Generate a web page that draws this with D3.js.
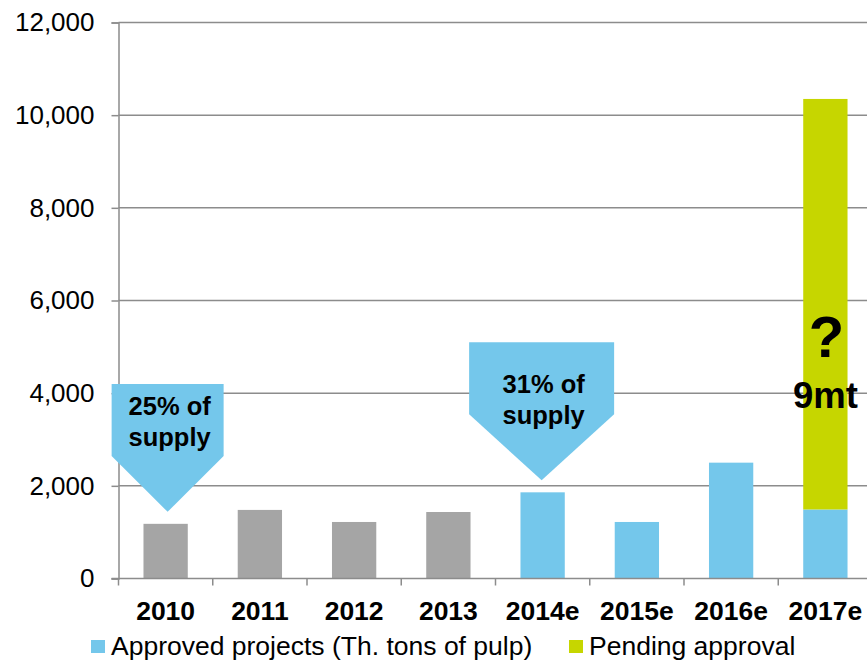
<!DOCTYPE html>
<html>
<head>
<meta charset="utf-8">
<script src="https://cdn.jsdelivr.net/npm/d3@7/dist/d3.min.js"></script>
<style>
  html, body { margin: 0; padding: 0; background: #fff; }
  svg { display: block; font-family: "Liberation Sans", Arial, sans-serif; }
</style>
</head>
<body>
<svg id="chart" width="867" height="660"></svg>
<script>
// Pulp capacity additions, thousand tons
const years = ["2010", "2011", "2012", "2013", "2014e", "2015e", "2016e", "2017e"];
const historical = [1180, 1480, 1220, 1435, 0, 0, 0, 0];
const approved   = [0, 0, 0, 0, 1860, 1220, 2500, 1490];
const pending    = [0, 0, 0, 0, 0, 0, 0, 8860];
const yTicks = [0, 2000, 4000, 6000, 8000, 10000, 12000];
const legendLabels = ["Approved projects (Th. tons of pulp)", "Pending approval"];

// Callouts pointing at bars
const callouts = [
  { year: "2010",  top: 4200, lines: ["25% of", "supply"], width: 112, dx: 2, textY: 31 },
  { year: "2014e", top: 5100, lines: ["31% of", "supply"], width: 145, dx: -1, textY: 51 }
];

const colors = { hist: "#a5a5a5", approved: "#74c7eb", pending: "#c6d600", grid: "#8c8c8c" };

const svg = d3.select("#chart");
const plotLeft = 118.5, plotRight = 872.5, plotTop = 22.5, plotBottom = 578.5;

const x = d3.scaleBand().domain(years).range([plotLeft, plotRight]).paddingInner(0.53).paddingOuter(0.265);
const y = d3.scaleLinear().domain([0, 12000]).range([plotBottom, plotTop]);
const step = x.step();

// Gridlines
svg.append("g").selectAll("line").data(yTicks.filter(v => v > 0)).join("line")
  .attr("x1", plotLeft).attr("x2", 867)
  .attr("y1", d => y(d)).attr("y2", d => y(d))
  .attr("stroke", colors.grid).attr("stroke-width", 1.5);

// Y axis
const yAxis = svg.append("g").attr("transform", `translate(${plotLeft},0)`)
  .call(d3.axisLeft(y).tickValues(yTicks).tickSize(7).tickPadding(17).tickFormat(d3.format(",")));
yAxis.select(".domain").attr("stroke", colors.grid).attr("stroke-width", 1.5);
yAxis.selectAll(".tick line").attr("stroke", colors.grid).attr("stroke-width", 1.5);
yAxis.selectAll("text").attr("font-size", 26).attr("fill", "#000")
  .attr("font-family", "Liberation Sans, Arial, sans-serif");

// Bars
const bars = svg.append("g");
years.forEach((yr, i) => {
  const bx = x(yr), bw = x.bandwidth();
  if (historical[i] > 0) {
    bars.append("rect").attr("x", bx).attr("width", bw)
      .attr("y", y(historical[i])).attr("height", y(0) - y(historical[i])).attr("fill", colors.hist);
  }
  if (approved[i] > 0) {
    bars.append("rect").attr("x", bx).attr("width", bw)
      .attr("y", y(approved[i])).attr("height", y(0) - y(approved[i])).attr("fill", colors.approved);
  }
  if (pending[i] > 0) {
    const base = approved[i] + historical[i];
    bars.append("rect").attr("x", bx).attr("width", bw)
      .attr("y", y(base + pending[i])).attr("height", y(base) - y(base + pending[i])).attr("fill", colors.pending);
  }
});

// X axis
const xAxisG = svg.append("g").attr("transform", `translate(0,${plotBottom})`);
xAxisG.append("line").attr("x1", plotLeft - 7).attr("x2", 867)
  .attr("stroke", colors.grid).attr("stroke-width", 1.5);
xAxisG.selectAll("line.tk").data(d3.range(years.length)).join("line").attr("class", "tk")
  .attr("x1", i => plotLeft + i * step).attr("x2", i => plotLeft + i * step)
  .attr("y1", 0).attr("y2", 7).attr("stroke", colors.grid).attr("stroke-width", 1.5);
xAxisG.selectAll("text").data(years).join("text")
  .attr("x", d => x(d) + x.bandwidth() / 2).attr("y", 41)
  .attr("text-anchor", "middle").attr("font-weight", "bold").attr("font-size", 26.5)
  .text(d => d);

// Callout arrows
callouts.forEach(c => {
  const i = years.indexOf(c.year);
  const cx = x(c.year) + x.bandwidth() / 2 + c.dx;
  const barTop = y(historical[i] + approved[i]);
  const tipY = barTop - 12;
  const yTop = y(c.top);
  const rectBottom = yTop + 72;
  const hw = c.width / 2;
  const g = svg.append("g");
  g.append("path")
    .attr("d", `M${cx - hw},${yTop} L${cx + hw},${yTop} L${cx + hw},${rectBottom} L${cx},${tipY} L${cx - hw},${rectBottom} Z`)
    .attr("fill", colors.approved);
  g.selectAll("text").data(c.lines).join("text")
    .attr("x", cx + 2).attr("y", (d, k) => yTop + c.textY + k * 31)
    .attr("text-anchor", "middle").attr("font-weight", "bold").attr("font-size", 25.5)
    .text(d => d);
});

// Pending annotation
const last = years[years.length - 1];
const lx = x(last) + x.bandwidth() / 2;
svg.append("text").attr("x", lx + 1).attr("y", 357)
  .attr("text-anchor", "middle").attr("font-weight", "bold").attr("font-size", 58).text("?");
svg.append("text").attr("x", lx).attr("y", 408)
  .attr("text-anchor", "middle").attr("font-weight", "bold").attr("font-size", 36.5).text("9mt");

// Legend
const legend = svg.append("g");
const legendItems = [
  { label: legendLabels[0], color: colors.approved, x: 91 },
  { label: legendLabels[1], color: colors.pending, x: 569 }
];
legendItems.forEach(it => {
  legend.append("rect").attr("x", it.x).attr("y", 640).attr("width", 14).attr("height", 13).attr("fill", it.color);
  legend.append("text").attr("x", it.x + 20).attr("y", 655).attr("font-size", 26.5).text(it.label);
});
</script>
</body>
</html>
